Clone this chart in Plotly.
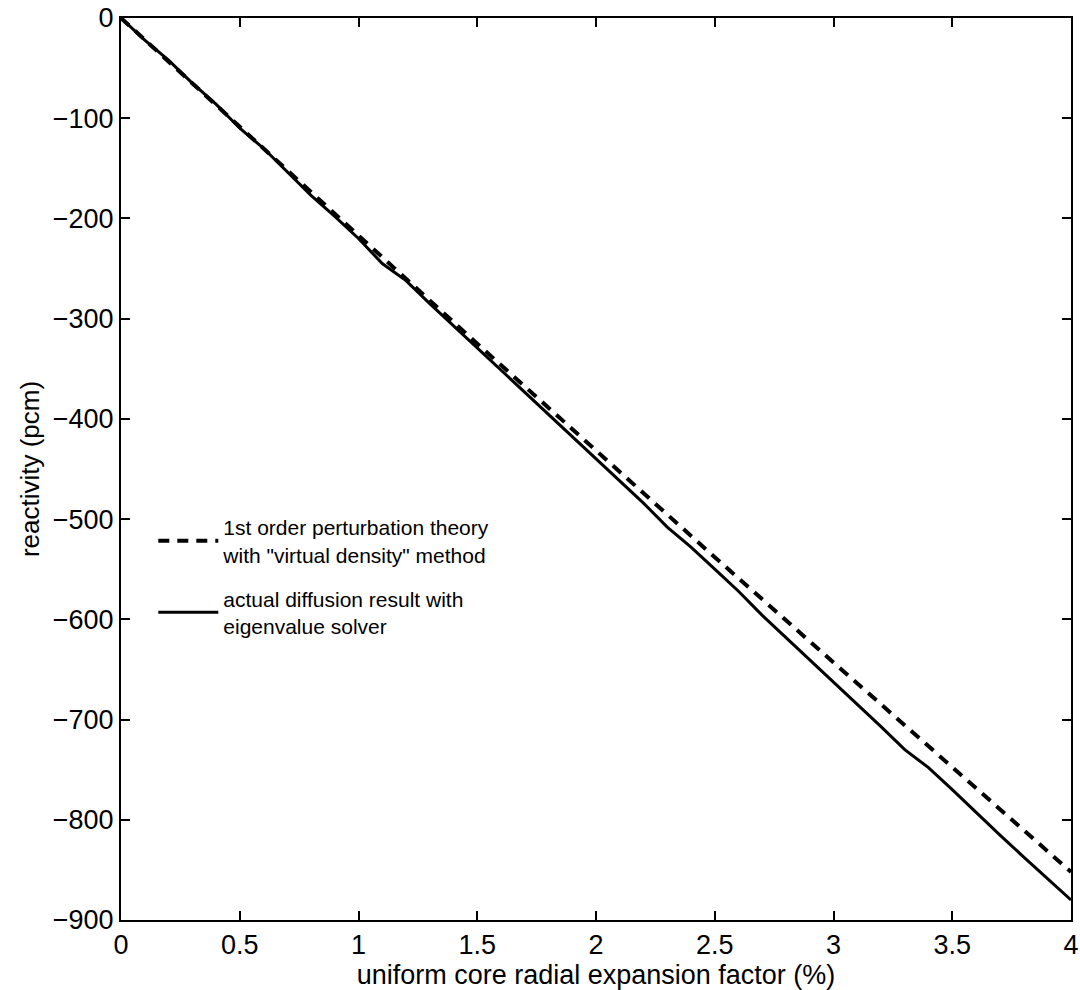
import plotly.graph_objects as go

# data
x_solid = [0.0, 0.1, 0.2, 0.3, 0.4, 0.5, 0.6, 0.7, 0.8, 0.9, 1.0,
           1.1, 1.2, 1.3, 1.4, 1.5, 1.6, 1.7, 1.8, 1.9, 2.0,
           2.1, 2.2, 2.3, 2.4, 2.5, 2.6, 2.7, 2.8, 2.9, 3.0,
           3.1, 3.2, 3.3, 3.4, 3.5, 3.6, 3.7, 3.8, 3.9, 4.0]
y_solid = [0, -22, -42, -65, -86, -110, -130, -153, -177, -198, -220,
           -245, -262, -285, -307, -330, -351, -373, -396, -418, -440,
           -462, -484, -508, -528, -550, -572, -596, -618, -640, -662,
           -685, -707, -730, -748, -770, -793, -815, -837, -858, -880]

x_dash = [0.0, 0.5, 1.0, 1.5, 2.0, 2.5, 3.0, 3.5, 4.0]
y_dash = [0, -109, -217, -325, -432, -538, -643, -748, -852]

x_ticks = [0, 0.5, 1, 1.5, 2, 2.5, 3, 3.5, 4]
y_ticks = [0, -100, -200, -300, -400, -500, -600, -700, -800, -900]

name_dash = '1st order perturbation theory<br>with "virtual density" method'
name_solid = 'actual diffusion result with<br>eigenvalue solver'

fig = go.Figure()
fig.add_trace(go.Scatter(x=x_dash, y=y_dash, mode="lines", name=name_dash, legendgroup="a",
                         line=dict(color="black", width=4, dash="11px,8px")))
fig.add_trace(go.Scatter(x=x_solid, y=y_solid, mode="lines", name=name_solid, legendgroup="b",
                         line=dict(color="black", width=3)))

font = "Liberation Sans, Arial, Helvetica, sans-serif"
axis_common = dict(showline=True, linecolor="black", linewidth=2, mirror="ticks",
                   ticks="inside", ticklen=9, tickwidth=1.5, tickcolor="black",
                   showgrid=False, zeroline=False, automargin=False,
                   tickfont=dict(size=27, color="black", family=font))

fig.update_layout(
    width=1080, height=990, autosize=False,
    margin=dict(l=121, r=9, t=18, b=70),
    paper_bgcolor="white", plot_bgcolor="white",
    font=dict(family=font, color="black"),
    showlegend=True,
    legend=dict(x=0.034, y=0.458, xanchor="left", yanchor="top",
                bgcolor="rgba(0,0,0,0)", font=dict(size=21, family=font),
                traceorder="grouped", tracegroupgap=14, itemwidth=60),
    xaxis=dict(range=[0, 4], tickvals=x_ticks, ticktext=[str(v) for v in x_ticks],
               title=dict(text="uniform core radial expansion factor (%)",
                          font=dict(size=27, family=font), standoff=2),
               **axis_common),
    yaxis=dict(range=[-900, 0], tickvals=y_ticks,
               title=dict(text="reactivity (pcm)", font=dict(size=26, family=font), standoff=6),
               **axis_common),
)

fig.write_html("out.html",
               config={"displayModeBar": False, "responsive": False},
               post_script="document.body.style.margin='0';document.body.style.overflow='hidden';")
